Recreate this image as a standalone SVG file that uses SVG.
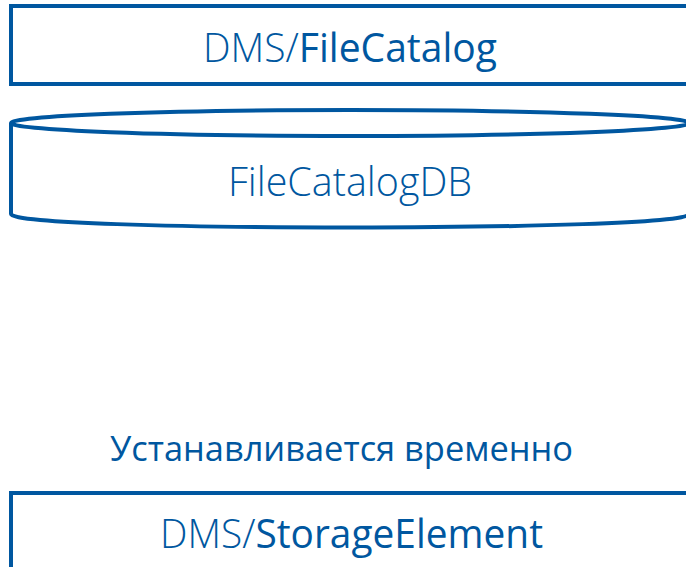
<svg xmlns="http://www.w3.org/2000/svg" width="686" height="567" viewBox="0 0 686 567">
  <style>
    .box { fill: #ffffff; stroke: #0057a0; stroke-width: 4; }
    .lbl { font-family: "Open Sans", "Noto Sans", "DejaVu Sans", sans-serif; fill: #0057a0; text-anchor: middle; }
    .thin { font-weight: 300; }
    .main { font-weight: 400; }
  </style>

  <g id="file-catalog">
    <rect class="box" x="11" y="6" width="690" height="78"/>
    <text class="lbl" x="350" y="62" font-size="41" textLength="294" lengthAdjust="spacingAndGlyphs"><tspan class="thin">DMS/</tspan><tspan class="main">FileCatalog</tspan></text>
  </g>

  <g id="file-catalog-db">
    <path class="box" d="M11,123 L11,214 C11,232 689,232 689,214 L689,123"/>
    <ellipse class="box" cx="350" cy="123" rx="339" ry="13"/>
    <text class="lbl thin" x="350" y="196" font-size="41" textLength="244" lengthAdjust="spacingAndGlyphs">FileCatalogDB</text>
  </g>

  <g id="connectors">
    <text class="lbl main" x="341.5" y="461" font-size="35" textLength="463" lengthAdjust="spacingAndGlyphs">Устанавливается временно</text>
  </g>

  <g id="storage-element">
    <rect class="box" x="11" y="493" width="690" height="90"/>
    <text class="lbl" x="351.5" y="548" font-size="41" textLength="383" lengthAdjust="spacingAndGlyphs"><tspan class="thin">DMS/</tspan><tspan class="main">StorageElement</tspan></text>
  </g>
</svg>
